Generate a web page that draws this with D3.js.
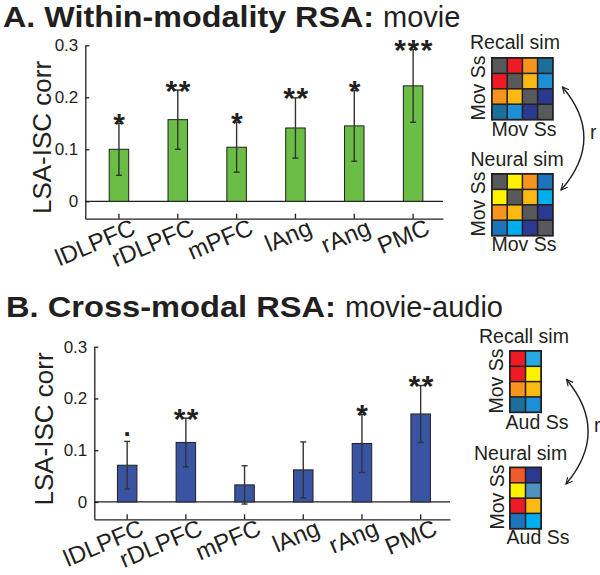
<!DOCTYPE html>
<html>
<head>
<meta charset="utf-8">
<script src="https://cdn.jsdelivr.net/npm/d3@7"></script>
<style>
  body { margin: 0; background: #fff; }
  svg { display: block; font-family: "Liberation Sans", Arial, sans-serif; }
</style>
</head>
<body>
<script>
// regions on the x axis (same for both panels)
var regions = ["lDLPFC", "rDLPFC", "mPFC", "lAng", "rAng", "PMC"];
var yTicks = [0, 0.1, 0.2, 0.3];

// A. within-modality (movie)
var movieVals = [0.100, 0.157, 0.104, 0.141, 0.145, 0.222];
var movieErr  = [0.050, 0.057, 0.048, 0.058, 0.068, 0.070];
var movieSig  = ["*", "**", "*", "**", "*", "***"];

// B. cross-modal (movie-audio)
var crossVals = [0.071, 0.115, 0.033, 0.062, 0.113, 0.170];
var crossErr  = [0.046, 0.047, 0.037, 0.054, 0.056, 0.055];
var crossSig  = [".", "**", "", "", "*", "**"];

// similarity matrix cartoons (colour keys, one string per row)
var recallA = ["grot", "rgyl", "oygd", "tldg"];
var neuralA = ["gYob", "Ygyc", "oygd", "bcdg"];
var recallB = ["rL", "rY", "oy", "tl"];
var neuralB = ["Rd", "Ys", "ry", "bc"];

var palette = {
  g: "#58595b", r: "#ed1c24", o: "#f7941d", y: "#fdb913", Y: "#fff200",
  t: "#1b6f99", l: "#1c8fd6", d: "#2b3990", c: "#00aeef", b: "#1c75bc",
  R: "#f15a29", s: "#4e91c2", L: "#27aae1"
};

var W = 600, H = 575;
var ink = "#231f20";

var svg = d3.select("body").append("svg")
  .attr("width", W)
  .attr("height", H);

var defs = svg.append("defs");
defs.append("marker")
  .attr("id", "head")
  .attr("viewBox", "0 0 10 10")
  .attr("refX", 9).attr("refY", 5)
  .attr("markerWidth", 8).attr("markerHeight", 8)
  .attr("markerUnits", "userSpaceOnUse")
  .attr("orient", "auto-start-reverse")
  .append("path")
  .attr("d", "M1,1L9,5L1,9")
  .attr("fill", "none")
  .attr("stroke", ink)
  .attr("stroke-width", 1.4);

// title: bold part (stretched to the width seen) + normal part
function title(x, y, bold, boldLen, normal) {
  var t = svg.append("text")
    .attr("x", x).attr("y", y)
    .attr("font-size", 29)
    .attr("fill", ink);
  t.append("tspan").attr("font-weight", "bold")
    .attr("textLength", boldLen).attr("lengthAdjust", "spacingAndGlyphs")
    .text(bold);
  t.append("tspan").attr("dx", 9).text(normal);
}

// bar chart panel
function barPanel(p) {
  var g = svg.append("g");
  var yMin = -0.0335;
  var x = d3.scaleBand().domain(regions)
    .range([p.left, p.right])
    .paddingInner(0).paddingOuter(p.padOuter).align(p.align);
  var y = d3.scaleLinear().domain([yMin, 0.3]).range([p.bottom, p.top]);
  var cx = function(d, i) { return x(regions[i]) + x.bandwidth() / 2; };
  var barW = 19.5;

  var rows = p.vals.map(function(v, i) {
    return { name: regions[i], v: v, e: p.errs[i], s: p.sig[i] };
  });

  // zero line
  g.append("line")
    .attr("x1", p.left).attr("x2", p.right)
    .attr("y1", y(0)).attr("y2", y(0))
    .attr("stroke", ink).attr("stroke-width", 1.3);

  // bars
  g.selectAll("rect.bar").data(rows).enter().append("rect")
    .attr("class", "bar")
    .attr("x", function(d, i) { return cx(d, i) - barW / 2; })
    .attr("y", function(d) { return y(d.v); })
    .attr("width", barW)
    .attr("height", function(d) { return y(0) - y(d.v); })
    .attr("fill", p.color)
    .attr("stroke", ink).attr("stroke-width", 1);

  // error bars
  var eb = g.selectAll("g.err").data(rows).enter().append("g")
    .attr("class", "err")
    .attr("stroke", "#333").attr("stroke-width", 1.4);
  eb.append("line")
    .attr("x1", cx).attr("x2", cx)
    .attr("y1", function(d) { return y(d.v - d.e); })
    .attr("y2", function(d) { return y(d.v + d.e); });
  [-1, 1].forEach(function(sgn) {
    eb.append("line")
      .attr("x1", function(d, i) { return cx(d, i) - 3; })
      .attr("x2", function(d, i) { return cx(d, i) + 3; })
      .attr("y1", function(d) { return y(d.v + sgn * d.e); })
      .attr("y2", function(d) { return y(d.v + sgn * d.e); });
  });

  // significance marks
  g.selectAll("text.sig").data(rows).enter().append("text")
    .attr("class", "sig")
    .attr("x", function(d, i) { return cx(d, i) + (d.s === "." ? 0 : 1); })
    .attr("y", function(d) { return y(d.v + d.e) + (d.s === "." ? -5.5 : 10.5); })
    .attr("text-anchor", "middle")
    .attr("font-size", d => d.s === "." ? 26 : 30)
    .attr("font-weight", "bold")
    .attr("letter-spacing", d => d.s === "." ? 0 : 1.5)
    .attr("fill", ink)
    .text(function(d) { return d.s; });

  // y axis
  g.append("g")
    .attr("transform", "translate(" + p.left + ",0)")
    .call(d3.axisLeft(y).tickValues(yTicks).tickSizeInner(-4).tickSizeOuter(0).tickPadding(7)
      .tickFormat(function(d) { return d === 0 ? "0" : d3.format(".1f")(d); }))
    .attr("font-family", null).attr("font-size", 17)
    .attr("color", ink)
    .call(function(a) { a.selectAll("path, line").attr("stroke-width", 1.3); });

  // x axis, rotated category names
  g.append("g")
    .attr("transform", "translate(0," + p.bottom + ")")
    .call(d3.axisBottom(x).tickSizeInner(-5).tickSizeOuter(0))
    .attr("font-family", null).attr("font-size", 24)
    .attr("color", ink)
    .call(function(a) {
      a.selectAll("path, line").attr("stroke-width", 1.3);
      a.selectAll("text")
        .attr("y", 0).attr("dy", null)
        .attr("text-anchor", "end")
        .attr("transform", "translate(18,15) rotate(-23)");
    });

  // y label
  g.append("text")
    .attr("transform", "translate(" + p.ylabX + "," + p.ylabY + ") rotate(-90)")
    .attr("text-anchor", "middle")
    .attr("font-size", 26)
    .attr("fill", ink)
    .text("LSA-ISC corr");
}

// small similarity matrix cartoon
function matrix(x0, y0, rowsKeys, cw, ch) {
  var nr = rowsKeys.length, nc = rowsKeys[0].length;
  var g = svg.append("g").attr("transform", "translate(" + x0 + "," + y0 + ")");
  g.append("rect")
    .attr("x", 0).attr("y", 0)
    .attr("width", nc * cw + 2).attr("height", nr * ch + 2)
    .attr("fill", ink);
  var cx = d3.scaleBand().domain(d3.range(nc)).range([1, 1 + nc * cw]).paddingInner(0.1).paddingOuter(0.05);
  var cy = d3.scaleBand().domain(d3.range(nr)).range([1, 1 + nr * ch]).paddingInner(0.1).paddingOuter(0.05);
  var cells = [];
  rowsKeys.forEach(function(r, i) {
    r.split("").forEach(function(k, j) { cells.push({ i: i, j: j, k: k }); });
  });
  g.selectAll("rect.cell").data(cells).enter().append("rect")
    .attr("x", function(d) { return cx(d.j); })
    .attr("y", function(d) { return cy(d.i); })
    .attr("width", cx.bandwidth())
    .attr("height", cy.bandwidth())
    .attr("fill", function(d) { return palette[d.k]; });
}

function label(x, y, txt, anchor, rot) {
  svg.append("text")
    .attr("transform", "translate(" + x + "," + y + ")" + (rot ? " rotate(" + rot + ")" : ""))
    .attr("text-anchor", anchor || "start")
    .attr("font-size", 19.5)
    .attr("fill", ink)
    .text(txt);
}

function arrow(x1, y1, x2, y2, bulge) {
  var p = d3.path();
  p.moveTo(x1, y1);
  p.quadraticCurveTo(bulge, (y1 + y2) / 2, x2, y2);
  svg.append("path")
    .attr("d", p.toString())
    .attr("fill", "none")
    .attr("stroke", ink).attr("stroke-width", 1.4)
    .attr("marker-start", "url(#head)")
    .attr("marker-end", "url(#head)");
}

// ---- Panel A ----
title(3, 26.5, "A. Within-modality RSA:", 371, "movie");
barPanel({
  vals: movieVals, errs: movieErr, sig: movieSig, color: "#6abd45",
  left: 85.3, right: 443, top: 45.3, bottom: 218.7,
  padOuter: 0.04, align: 0.9, ylabX: 50.5, ylabY: 137.5
});

label(470, 49.3, "Recall sim");
matrix(491, 57, recallA, 15.2, 15.4);
label(484.5, 88, "Mov Ss", "middle", -90);
label(491.5, 136, "Mov Ss");

label(470.5, 166, "Neural sim");
matrix(491, 173, neuralA, 15.2, 15.4);
label(484.5, 204, "Mov Ss", "middle", -90);
label(491.5, 250.5, "Mov Ss");

arrow(562.5, 87, 561, 190, 606);
label(590, 139, "r");

// ---- Panel B ----
title(6, 317, "B. Cross-modal RSA:", 330, "movie-audio");
barPanel({
  vals: crossVals, errs: crossErr, sig: crossSig, color: "#3a54a4",
  left: 94.3, right: 450, top: 346.7, bottom: 519.3,
  padOuter: 0.03, align: 1, ylabX: 53, ylabY: 429
});

label(479, 343, "Recall sim");
matrix(509, 350, recallB, 15.5, 15.3);
label(503, 381, "Mov Ss", "middle", -90);
label(537, 429.3, "Aud Ss", "middle");

label(474, 460, "Neural sim");
matrix(509, 466.5, neuralB, 15.5, 15.3);
label(504, 497, "Mov Ss", "middle", -90);
label(538, 544.3, "Aud Ss", "middle");

arrow(566.5, 379.5, 566, 484, 610);
label(594, 431.5, "r");
</script>
</body>
</html>
